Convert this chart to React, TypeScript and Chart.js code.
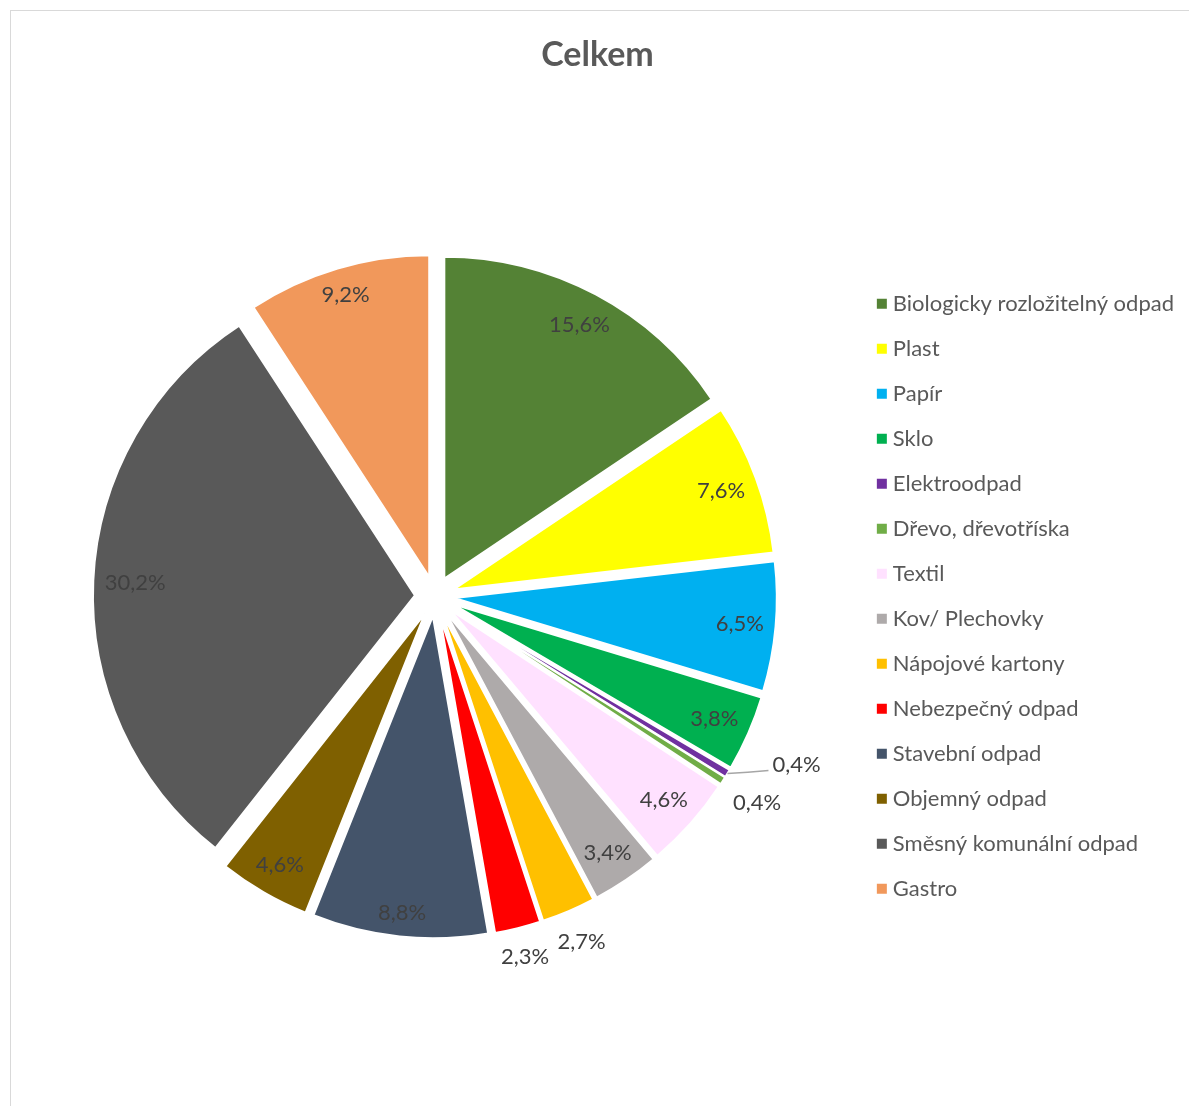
import React, { useEffect, useRef } from "react";
import { Chart, registerables } from "chart.js";

Chart.register(...registerables);

const categories = [
  "Biologicky rozložitelný odpad",
  "Plast",
  "Papír",
  "Sklo",
  "Elektroodpad",
  "Dřevo, dřevotříska",
  "Textil",
  "Kov/ Plechovky",
  "Nápojové kartony",
  "Nebezpečný odpad",
  "Stavební odpad",
  "Objemný odpad",
  "Směsný komunální odpad",
  "Gastro",
];
const shares = [15.6, 7.6, 6.5, 3.8, 0.4, 0.4, 4.6, 3.4, 2.7, 2.3, 8.8, 4.6, 30.2, 9.2];
const sliceColors = [
  "#548235", "#FFFF00", "#00B0F0", "#00B050", "#7030A0", "#70AD47", "#FFE1FF",
  "#AEAAAA", "#FFC000", "#FF0000", "#44546A", "#7F6000", "#595959", "#F1985B",
];
const titleText = "Celkem";

const FONT = "Lato, 'Open Sans', sans-serif";
const LABEL_SIZE = 22;
const LEGEND_SIZE = 22;
const EXPLODE = 20;
const RADIUS = 322;

const fmt = (v: number) => v.toFixed(1).replace(".", ",") + "%";

const explodePlugin = {
  id: "explodeSlices",
  beforeDatasetsDraw(chart: any) {
    const meta = chart.getDatasetMeta(0);
    const ca = chart.chartArea;
    const cx = (ca.left + ca.right) / 2;
    const cy = (ca.top + ca.bottom) / 2;
    meta.data.forEach((arc: any) => {
      const mid = (arc.startAngle + arc.endAngle) / 2;
      arc.x = cx + EXPLODE * Math.cos(mid);
      arc.y = cy + EXPLODE * Math.sin(mid);
    });
  },
};

// distance along the bisector so that a label box's far (inside) or near (outside) corner sits on a circle
const cornerDist = (c: number, s: number, w: number, h: number, target: number, outside: boolean) => {
  const a = Math.sign(c) * w / 2;
  const b = Math.sign(s) * h / 2;
  const k = a * c + b * s;
  const disc = Math.sqrt(Math.max(k * k - (a * a + b * b - target * target), 0));
  return outside ? k + disc : -k + disc;
};

const labelPlugin = {
  id: "sliceLabels",
  afterDatasetsDraw(chart: any) {
    const ctx = chart.ctx;
    const meta = chart.getDatasetMeta(0);
    const vals = chart.data.datasets[0].data as number[];
    ctx.save();
    ctx.font = `${LABEL_SIZE}px ${FONT}`;
    ctx.fillStyle = "#404040";
    ctx.textBaseline = "middle";
    const h = LABEL_SIZE * 0.9;
    meta.data.forEach((arc: any, i: number) => {
      const v = vals[i];
      const mid = (arc.startAngle + arc.endAngle) / 2;
      const c = Math.cos(mid);
      const s = Math.sin(mid);
      const R = arc.outerRadius;
      const text = fmt(v);
      const w = ctx.measureText(text).width;
      if (v >= 3) {
        const d = cornerDist(c, s, w, h, R - 11, false);
        ctx.textAlign = "center";
        ctx.fillText(text, arc.x + d * c, arc.y + d * s);
      } else if (v < 1 && i + 1 < vals.length && vals[i + 1] < 1) {
        const sx = arc.x + R * c;
        const sy = arc.y + R * s;
        const ex = sx + 41;
        const ey = sy - 3;
        ctx.strokeStyle = "#A6A6A6";
        ctx.lineWidth = 1.5;
        ctx.beginPath();
        ctx.moveTo(sx, sy);
        ctx.quadraticCurveTo(sx + 20, sy - 1, ex, ey);
        ctx.stroke();
        ctx.textAlign = "left";
        ctx.fillText(text, ex + 4, ey - 6);
      } else {
        const d = cornerDist(c, s, w, h, R + 15, true);
        ctx.textAlign = "center";
        ctx.fillText(text, arc.x + d * c, arc.y + d * s);
      }
    });
    ctx.restore();
  },
};

export default function App() {
  const canvasRef = useRef<HTMLCanvasElement | null>(null);

  useEffect(() => {
    const canvas = canvasRef.current;
    if (!canvas) return;
    const chart = new Chart(canvas, {
      type: "pie",
      data: {
        labels: categories,
        datasets: [
          {
            data: shares,
            backgroundColor: sliceColors,
            borderColor: "#FFFFFF",
            borderWidth: 2,
          },
        ],
      },
      options: {
        animation: false,
        responsive: true,
        maintainAspectRatio: false,
        radius: RADIUS,
        layout: { padding: { left: 0, right: 5, top: 0, bottom: 6.4 } },
        plugins: {
          title: {
            display: true,
            text: titleText,
            color: "#595959",
            font: { family: FONT, size: 34, weight: "bold", lineHeight: 1.2 },
            padding: { top: 24, bottom: 17.2 },
          },
          legend: {
            position: "right",
            fullSize: false,
            labels: {
              usePointStyle: true,
              pointStyle: "rect",
              boxWidth: 0.01,
              boxHeight: 10,
              padding: 45 - LEGEND_SIZE,
              color: "#595959",
              font: { family: FONT, size: LEGEND_SIZE },
              generateLabels: (ch: any) => {
                const items = (Chart as any).overrides.pie.plugins.legend.labels.generateLabels(ch);
                return items.map((it: any) => ({
                  ...it,
                  lineWidth: 0,
                  strokeStyle: "rgba(0,0,0,0)",
                  pointStyle: "rect",
                }));
              },
            },
          },
          tooltip: { enabled: true },
        },
      } as any,
      plugins: [explodePlugin, labelPlugin],
    });
    return () => chart.destroy();
  }, []);

  return (
    <div
      style={{
        position: "fixed",
        left: 10,
        top: 10,
        width: 1179,
        height: 1096,
        boxSizing: "border-box",
        borderLeft: "1px solid #D9D9D9",
        borderTop: "1px solid #D9D9D9",
        background: "#FFFFFF",
      }}
    >
      <div style={{ position: "relative", width: 1178, height: 1095 }}>
        <canvas ref={canvasRef} />
      </div>
    </div>
  );
}
